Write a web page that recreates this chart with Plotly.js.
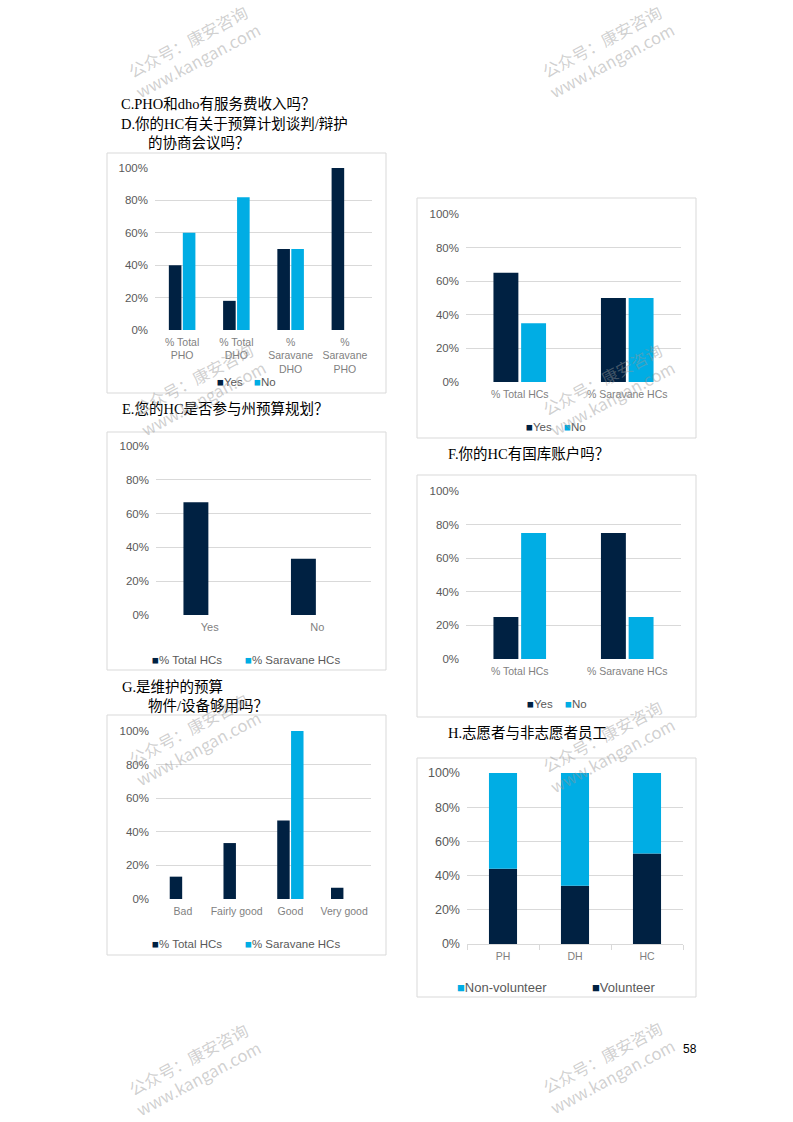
<!DOCTYPE html>
<html><head><meta charset="utf-8">
<script src="https://cdn.plot.ly/plotly-3.0.1.min.js"></script>
<style>html,body{margin:0;padding:0;background:#fff}#page{width:793px;height:1122px}</style>
</head><body><div id="page"></div>
<script>
// ---- Chart C (top right) ----
const cCats = ['% Total HCs', '% Saravane HCs'];
const cSeries = ['Yes', 'No'];
const cYes = [0.65, 0.50];
const cNo = [0.35, 0.50];
// ---- Chart D (top left) ----
const dCats = ['% Total<br>PHO', '% Total<br>DHO', '%<br>Saravane<br>DHO', '%<br>Saravane<br>PHO'];
const dSeries = ['Yes', 'No'];
const dYes = [0.40, 0.18, 0.50, 1.00];
const dNo = [0.60, 0.82, 0.50, 0.00];
// ---- Chart E ----
const eCats = ['Yes', 'No'];
const eSeries = ['% Total HCs', '% Saravane HCs'];
const eTotal = [0.667, 0.333];
const eSaravane = [0, 0];
// ---- Chart F ----
const fCats = ['% Total HCs', '% Saravane HCs'];
const fSeries = ['Yes', 'No'];
const fYes = [0.25, 0.75];
const fNo = [0.75, 0.25];
// ---- Chart G ----
const gCats = ['Bad', 'Fairly good', 'Good', 'Very good'];
const gSeries = ['% Total HCs', '% Saravane HCs'];
const gTotal = [0.133, 0.333, 0.467, 0.067];
const gSaravane = [0, 0, 1.00, 0];
// ---- Chart H ----
const hCats = ['PH', 'DH', 'HC'];
const hSeries = ['Non-volunteer', 'Volunteer'];
const hVolunteer = [0.44, 0.34, 0.53];
const hNonVolunteer = [0.56, 0.66, 0.47];

const titles = [
  ['C.PHO和dho有服务费收入吗？', 119, 104],
  ['D.你的HC有关于预算计划谈判/辩护', 119, 124],
  ['的协商会议吗？', 146, 143],
  ['E.您的HC是否参与州预算规划？', 120, 409],
  ['F.你的HC有国库账户吗？', 446, 454],
  ['G.是维护的预算', 120, 687],
  ['物件/设备够用吗？', 146, 706],
  ['H.志愿者与非志愿者员工', 446, 733]
];

const DARK = '#002142';
const LIGHT = '#00ADE4';
const W = 793, H = 1122;
const px = x => x / W;
const py = y => 1 - y / H;
const xd = (a, b) => [px(a), px(b)];
const yd = (t, b) => [py(b), py(t)];

const traces = [];
function bar(x, y, name, color, ax, extra) {
  traces.push(Object.assign({type: 'bar', x: x, y: y, name: name, marker: {color: color, line: {width: 0}},
    xaxis: 'x' + ax, yaxis: 'y' + ax, showlegend: false, hoverinfo: 'skip'}, extra || {}));
}
bar(dCats, dYes, dSeries[0], DARK, '');
bar(dCats, dNo, dSeries[1], LIGHT, '');
bar(cCats, cYes, cSeries[0], DARK, '2');
bar(cCats, cNo, cSeries[1], LIGHT, '2');
bar(eCats, eTotal, eSeries[0], DARK, '3');
bar(eCats, eSaravane, eSeries[1], LIGHT, '3');
bar(fCats, fYes, fSeries[0], DARK, '4');
bar(fCats, fNo, fSeries[1], LIGHT, '4');
bar(gCats, gTotal, gSeries[0], DARK, '5');
bar(gCats, gSaravane, gSeries[1], LIGHT, '5');
bar(hCats, hVolunteer, hSeries[1], DARK, '6', {offset: -0.195, width: 0.39});
bar(hCats, hNonVolunteer, hSeries[0], LIGHT, '6', {offset: -0.195, width: 0.39, base: hVolunteer});

const font = 'Liberation Sans, Arial, sans-serif';
function yax(dom, anchor, size) {
  return {domain: dom, anchor: anchor, range: [0, 1.0001], dtick: 0.2, tick0: 0, tickformat: '.0%',
    showgrid: true, gridcolor: '#d9d9d9', gridwidth: 1, zeroline: false, showline: false, ticks: '',
    ticklabelstandoff: 6, tickfont: {family: font, size: size || 11.5, color: '#595959'}, fixedrange: true};
}
function xax(dom, anchor, size, extra) {
  return Object.assign({domain: dom, anchor: anchor, type: 'category', showgrid: false, zeroline: false, showline: false,
    ticks: '', ticklabelstandoff: 4, tickfont: {family: font, size: size || 10.5, color: '#7f7f7f'}, fixedrange: true}, extra || {});
}

const layout = {
  width: W, height: H, margin: {l: 0, r: 0, t: 0, b: 0}, showlegend: false,
  paper_bgcolor: '#ffffff', plot_bgcolor: 'rgba(0,0,0,0)',
  barmode: 'group', bargap: 0.485, bargroupgap: 0.1,
  xaxis: xax(xd(155, 372), 'y', 10.5), yaxis: yax(yd(168, 330), 'x'),
  xaxis2: xax(xd(466, 681), 'y2', 10.5), yaxis2: yax(yd(214, 382), 'x2'),
  xaxis3: xax(xd(156, 371), 'y3', 11), yaxis3: yax(yd(446, 615), 'x3'),
  xaxis4: xax(xd(466, 681), 'y4', 10.5), yaxis4: yax(yd(491, 659), 'x4'),
  xaxis5: xax(xd(156, 371), 'y5', 10.5), yaxis5: yax(yd(731, 899), 'x5'),
  xaxis6: xax(xd(467, 683), 'y6', 10.5, {showline: true, linecolor: '#d9d9d9', linewidth: 1, ticks: 'outside',
    tickson: 'boundaries', ticklen: 5, tickcolor: '#d9d9d9', ticklabelstandoff: 2}),
  yaxis6: yax(yd(773, 944), 'x6', 12.5),
  shapes: [], annotations: []
};

// chart frames
[[107, 153, 386, 393], [417, 198, 696, 438], [107, 432, 386, 670], [417, 475, 696, 717], [107, 715, 386, 955], [417, 758, 696, 997]]
  .forEach(b => layout.shapes.push({type: 'rect', xref: 'paper', yref: 'paper', x0: px(b[0]), x1: px(b[2]), y0: py(b[3]), y1: py(b[1]),
    line: {color: '#d9d9d9', width: 1}, fillcolor: 'rgba(0,0,0,0)', layer: 'below'}));

// legends (square marker + label)
function legItem(x, y, color, label, size) {
  layout.annotations.push({xref: 'paper', yref: 'paper', x: px(x), y: py(y), xanchor: 'left', yanchor: 'middle', showarrow: false,
    text: '<span style="color:' + color + '">■</span>' + label,
    font: {family: font, size: size, color: '#595959'}});
}
legItem(215, 382, DARK, dSeries[0], 11.5); legItem(252, 382, LIGHT, dSeries[1], 11.5);
legItem(524, 427, DARK, cSeries[0], 11.5); legItem(562, 427, LIGHT, cSeries[1], 11.5);
legItem(150, 660, DARK, eSeries[0], 11.5); legItem(243, 660, LIGHT, eSeries[1], 11.5);
legItem(525, 704, DARK, fSeries[0], 11.5); legItem(563, 704, LIGHT, fSeries[1], 11.5);
legItem(150, 944, DARK, gSeries[0], 11.5); legItem(243, 944, LIGHT, gSeries[1], 11.5);
legItem(455, 987, LIGHT, hSeries[0], 13); legItem(590, 987, DARK, hSeries[1], 13);

// question titles
titles.forEach(t => layout.annotations.push({xref: 'paper', yref: 'paper', x: px(t[1]), y: py(t[2]), xanchor: 'left', yanchor: 'middle',
  showarrow: false, text: t[0], font: {family: 'Liberation Serif, Noto Sans CJK SC, serif', size: 14.5, color: '#000000'}}));

// page number
layout.annotations.push({xref: 'paper', yref: 'paper', x: px(690), y: py(1049), xanchor: 'center', yanchor: 'middle', showarrow: false,
  text: '58', font: {family: font, size: 12, color: '#000000'}});

// watermarks
[[193, 51], [607, 51], [198, 388], [607, 388], [193, 738], [607, 745], [193, 1068], [607, 1066]].forEach(p =>
  layout.annotations.push({xref: 'paper', yref: 'paper', x: px(p[0]), y: py(p[1]), xanchor: 'center', yanchor: 'middle', showarrow: false,
    textangle: -28, text: '公众号：康安咨询<br>www.kangan.com',
    font: {family: 'Noto Sans CJK SC, sans-serif', size: 16.5, color: 'rgba(150,150,150,0.45)'}}));

Plotly.newPlot('page', traces, layout, {staticPlot: true, displayModeBar: false});
</script>
</body></html>
